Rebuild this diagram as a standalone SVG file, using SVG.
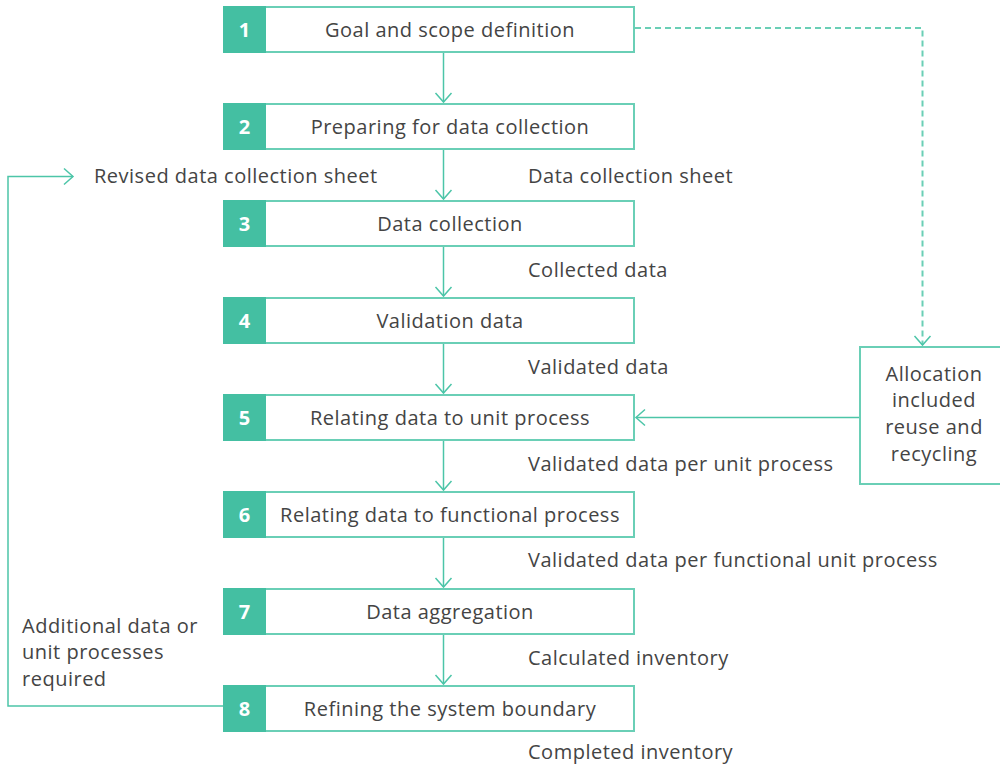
<svg xmlns="http://www.w3.org/2000/svg" width="1000" height="765" viewBox="0 0 1000 765">
<defs>
<style>
.box{fill:#fff;stroke:#6acfb6;stroke-width:2}
.num{fill:#44bfa2}
.nt{font-family:"Open Sans","Noto Sans",sans-serif;font-size:20px;font-weight:bold;fill:#fff;text-anchor:middle;dominant-baseline:central}
.t{font-family:"Open Sans","Noto Sans",sans-serif;font-size:20px;letter-spacing:0.5px;fill:#444;dominant-baseline:central}
.c{text-anchor:middle}
.ln{fill:none;stroke:#4cc5a8;stroke-width:1.5}
.dash{fill:none;stroke:#6acfb6;stroke-width:2;stroke-dasharray:6 4}
</style>
<marker id="ah" markerWidth="20" markerHeight="20" refX="10" refY="10" markerUnits="userSpaceOnUse" orient="auto">
<path d="M1,2 L10,10 L1,18" fill="none" stroke="#4cc5a8" stroke-width="1.5"/>
</marker>
</defs>
<rect width="1000" height="765" fill="#fff"/>
<g id="connectors">
<line class="ln" x1="443.5" y1="53" x2="443.5" y2="102" marker-end="url(#ah)"/>
<line class="ln" x1="443.5" y1="150" x2="443.5" y2="199" marker-end="url(#ah)"/>
<line class="ln" x1="443.5" y1="247" x2="443.5" y2="296" marker-end="url(#ah)"/>
<line class="ln" x1="443.5" y1="344" x2="443.5" y2="393" marker-end="url(#ah)"/>
<line class="ln" x1="443.5" y1="441" x2="443.5" y2="490" marker-end="url(#ah)"/>
<line class="ln" x1="443.5" y1="538" x2="443.5" y2="587" marker-end="url(#ah)"/>
<line class="ln" x1="443.5" y1="635" x2="443.5" y2="684" marker-end="url(#ah)"/>
<polyline class="dash" points="635,28 922.5,28 922.5,345" marker-end="url(#ah)"/>
<line class="ln" x1="859" y1="417.5" x2="636" y2="417.5" marker-end="url(#ah)"/>
<polyline class="ln" points="224,706 8,706 8,176.5 73,176.5" marker-end="url(#ah)"/>
</g>
<g id="n1"><rect class="box" x="224" y="7" width="410" height="45"/><rect class="num" x="223" y="6" width="43" height="47"/><text class="nt" x="244.5" y="29">1</text><text class="t c" x="450" y="29">Goal and scope definition</text></g>
<g id="n2"><rect class="box" x="224" y="104" width="410" height="45"/><rect class="num" x="223" y="103" width="43" height="47"/><text class="nt" x="244.5" y="126">2</text><text class="t c" x="450" y="126">Preparing for data collection</text></g>
<g id="n3"><rect class="box" x="224" y="201" width="410" height="45"/><rect class="num" x="223" y="200" width="43" height="47"/><text class="nt" x="244.5" y="223">3</text><text class="t c" x="450" y="223">Data collection</text></g>
<g id="n4"><rect class="box" x="224" y="298" width="410" height="45"/><rect class="num" x="223" y="297" width="43" height="47"/><text class="nt" x="244.5" y="320">4</text><text class="t c" x="450" y="320">Validation data</text></g>
<g id="n5"><rect class="box" x="224" y="395" width="410" height="45"/><rect class="num" x="223" y="394" width="43" height="47"/><text class="nt" x="244.5" y="417">5</text><text class="t c" x="450" y="417">Relating data to unit process</text></g>
<g id="n6"><rect class="box" x="224" y="492" width="410" height="45"/><rect class="num" x="223" y="491" width="43" height="47"/><text class="nt" x="244.5" y="514">6</text><text class="t c" x="450" y="514">Relating data to functional process</text></g>
<g id="n7"><rect class="box" x="224" y="589" width="410" height="45"/><rect class="num" x="223" y="588" width="43" height="47"/><text class="nt" x="244.5" y="611">7</text><text class="t c" x="450" y="611">Data aggregation</text></g>
<g id="n8"><rect class="box" x="224" y="686" width="410" height="45"/><rect class="num" x="223" y="685" width="43" height="47"/><text class="nt" x="244.5" y="708">8</text><text class="t c" x="450" y="708">Refining the system boundary</text></g>
<g id="alloc"><rect class="box" x="860" y="347" width="145" height="137"/>
<text class="t c" x="934" y="373">Allocation</text><text class="t c" x="934" y="399">included</text><text class="t c" x="934" y="426">reuse and</text><text class="t c" x="934" y="453">recycling</text></g>
<g id="labels">
<text class="t" x="94" y="175">Revised data collection sheet</text>
<text class="t" x="528" y="175">Data collection sheet</text>
<text class="t" x="528" y="269">Collected data</text>
<text class="t" x="528" y="366">Validated data</text>
<text class="t" x="528" y="463">Validated data per unit process</text>
<text class="t" x="528" y="559">Validated data per functional unit process</text>
<text class="t" x="528" y="657">Calculated inventory</text>
<text class="t" x="528" y="751">Completed inventory</text>
<text class="t" x="22" y="625">Additional data or</text>
<text class="t" x="22" y="651">unit processes</text>
<text class="t" x="22" y="678">required</text>
</g>
</svg>
